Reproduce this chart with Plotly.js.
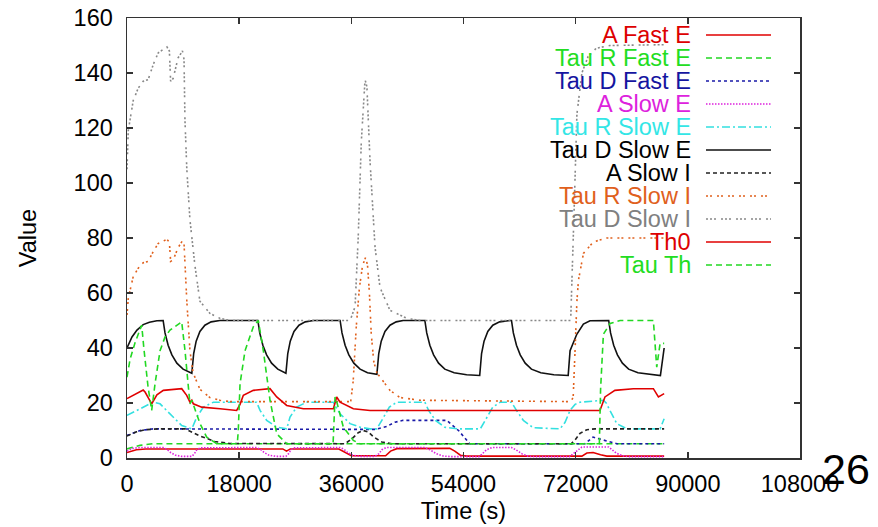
<!DOCTYPE html>
<html><head><meta charset="utf-8">
<script src="https://cdn.plot.ly/plotly-3.0.1.min.js"></script>
<style>html,body{margin:0;padding:0;background:#fff}#chart{width:878px;height:527px}</style>
</head><body><div id="chart"></div>
<script>
const seriesNames = ["A Fast E","Tau R Fast E","Tau D Fast E","A Slow E","Tau R Slow E","Tau D Slow E","A Slow I","Tau R Slow I","Tau D Slow I","Th0","Tau Th"];
const xTickValues = [0,18000,36000,54000,72000,90000,108000];
const yTickValues = [0,20,40,60,80,100,120,140,160];
const slideNumber = "26";

// A Fast E (red, near bottom)
const tAFastE = [0,1500,3000,25000,25600,26200,34000,35000,36000,41500,42300,43300,51800,52600,53500,54500,73000,73800,74800,76000,77000,86200];
const vAFastE = [2,3,3.3,3.3,2.5,3.3,3.3,2,0.8,0.8,2.5,3.4,3.5,2.5,1,0.7,0.7,1.8,2,1.2,0.7,0.7];

// Tau R Fast E (green, ~5)
const tTauRFastE = [0,2100,4200,86200];
const vTauRFastE = [3.3,4.6,5.2,5.2];

// Tau D Fast E (blue)
const tTauDFastE = [0,2100,4200,39800,41700,43000,44300,51300,53200,55000,73500,74800,76500,78600,86200];
const vTauDFastE = [8.2,10,10.6,10.4,11.5,13,13.7,13.7,10,5.2,5.2,7.6,6.5,5.2,5.2];

// A Slow E (magenta)
const tASlowE = [0,800,2000,5800,6400,7000,7800,8800,10400,10800,11200,11800,20800,21400,22000,22800,24000,25500,25900,26300,26900,34200,34800,35400,36200,37400,39800,40400,40900,41600,47800,48600,49700,50800,52000,56500,57000,57700,58600,61700,62400,63400,64400,65500,71000,71600,72300,73000,77300,77800,78500,79500,80500,86200];
const vASlowE = [2.5,3.5,3.8,3.8,3.2,2,1,0.6,0.6,1.5,3,3.7,3.8,3.2,2,1,0.6,0.6,1.5,3,3.7,3.8,3.2,2,1,0.6,0.6,1.5,3,3.8,3.8,3,1.5,0.7,0.5,0.5,1.5,3,3.8,3.8,3,1.5,0.6,0.5,0.5,1.5,3,4,4,3.2,1.8,0.8,0.5,0.5];

// Tau R Slow E (cyan)
const tTauRSlowE = [0,2600,4200,5300,6900,8780,10400,11200,12250,13850,20800,21350,22420,24030,25630,26160,27230,28830,33100,34190,35790,37400,39000,40100,41200,42100,43300,47800,48400,49500,51000,53000,56700,57800,58700,59900,61700,62500,63600,65200,69500,70300,71100,71900,72700,76450,76900,77500,78600,80200,85550,86200];
const vTauRSlowE = [15.5,18.5,20.3,19.7,16.1,11.8,10.6,14.9,18.5,20.3,20.3,17.3,13.7,11.2,10.6,14.9,18.5,20.3,20.3,16.1,12.5,11.2,10.6,10.6,14.9,18.5,20.3,20.3,17.3,13.7,11.2,10.6,10.6,14.9,18.5,20.3,20.3,17.3,13.7,11,10.6,13,17.3,19.5,20.3,21,20,17.3,12.5,10.6,10.6,14.3];

// Tau D Slow E (black solid)
const tTauDSlowE = [0,800,1600,2600,3600,4800,5800,6100,6600,7200,8000,9000,10400,10700,11100,11700,12500,13500,14900,21000,21300,21800,22400,23200,24200,25500,25800,26200,26800,27600,28600,29900,34200,34500,35000,35600,36400,37400,38600,40100,40400,40800,41400,42200,43200,44300,47800,48100,48600,49200,50000,51000,52500,54500,56600,56900,57300,57900,58700,59800,61500,61700,62000,62500,63100,63900,64900,66400,68500,70800,71100,72180,73240,74300,77300,77600,78100,78700,79500,80500,82000,84000,85600,86200];
const vTauDSlowE = [40,44,46.5,48.5,49.4,49.9,50,45.5,41,37.5,34.5,32.3,30.8,38,42.5,46,48.3,49.5,50,50,45.5,41,37.5,34.5,32.3,30.8,38,42.5,46,48.3,49.5,50,50,45.5,41,37.5,34.5,32.3,31,30.4,38,42.5,46,48.3,49.5,50,50,45.5,41,37.5,34.5,32.3,31,30.3,30,38,42.5,46,48.3,49.5,50,50,45.5,41,37.5,34.5,32.3,31,30.3,30,39,45,48.7,49.9,50,45.5,41,37.5,34.5,32.3,31,30.3,30,40];

// A Slow I (black dashed)
const tASlowI = [0,1500,3000,5000,9300,11700,14100,16500,35000,36100,37100,37900,38700,39600,40900,42500,71300,71900,72700,73800,75100,86200];
const vASlowI = [8,9.5,10.3,10.6,10.6,8,6,5.3,5.2,7,9.2,10,9.5,7.6,5.8,5.2,5.2,6.5,9,10.3,10.6,10.6];

// Tau R Slow I (orange)
const tTauRSlowI = [0,200,1000,1800,2600,3400,4200,5000,6400,6800,7000,7400,8200,8900,9150,9300,9600,10100,10600,11700,13300,14900,16500,35900,36300,36800,37300,37800,38300,38600,38900,39200,39600,40100,42200,43800,47000,71200,71600,71900,72200,72450,73250,74850,77000,86200];
const vTauRSlowI = [52,58,66,69,71,71.5,75,78,79.5,78.5,71.5,72,76.5,79,78,70,57,39,31,25,22,21,20.5,20.5,28,48,62,70,73,70,60,45,35,31,24.6,22,21,20.5,22,39,57,64.7,74.4,78.6,80,80];

// Tau D Slow I (gray)
const tTauDSlowI = [0,200,1000,1800,2600,3400,4200,5000,6400,6800,7000,7400,8200,8900,9150,9300,9600,10100,10900,11700,13300,14900,16500,35800,36600,37100,37600,38200,38500,39000,39800,40600,42200,44900,47000,71200,71750,72200,73000,74000,75300,77500,86200];
const vTauDSlowI = [105,119,130,134.5,137,137.6,143,147.3,149.5,148,137,138,145.5,148,145,123,105,86.6,70,57,52.6,50.8,50,50,55,80,115,137.6,135,108,76.8,62,53.7,50.8,50,50,90,125,140,146,149,150,150.3];

// Th0 (red solid, ~20)
const tTh0 = [0,2100,2600,2900,3960,4800,5830,8780,9580,10100,10400,10640,11990,14930,17600,18140,18670,20270,22950,24030,25630,28300,33120,33650,34190,36320,39000,75900,76700,78300,81260,84470,85280,86200];
const vTh0 = [21.6,24,24.7,24,19.7,23,24.6,25.2,22.8,20.3,21,19.7,18.5,17.9,17.3,19.5,22.8,24.6,25.2,22.2,19.1,17.9,17.9,22.2,20.3,17.9,17.3,17.3,22.2,24.6,25.2,25.2,22.2,23.4];

// Tau Th (green, large swings)
const tTauTh = [0,500,1300,2360,2700,3370,3960,4500,5300,6100,6900,8780,9310,9840,10100,10400,10640,11720,12790,14400,17700,17860,18140,18940,20270,21070,21880,22950,24030,25630,33070,33390,33710,34720,36320,37400,75800,76000,76450,77510,79130,84470,85010,85550,86200];
const vTauTh = [29.4,36,42,48.3,40,26,17.3,27,39,44,46.5,49.5,39,25.8,19.7,21,19.5,12.5,7.6,5.2,5.2,10,27,39,47.7,50,39,21,8.8,5.2,5.2,22.2,20,11.2,6.4,5.2,5.2,25,45,48.9,50,50,33,41.7,41.7];

const seriesTimes = [tAFastE,tTauRFastE,tTauDFastE,tASlowE,tTauRSlowE,tTauDSlowE,tASlowI,tTauRSlowI,tTauDSlowI,tTh0,tTauTh];
const seriesValues = [vAFastE,vTauRFastE,vTauDFastE,vASlowE,vTauRSlowE,vTauDSlowE,vASlowI,vTauRSlowI,vTauDSlowI,vTh0,vTauTh];

// styles
const lineColors = ["#e00000","#22d822","#1a1aa8","#dd22dd","#33e0e0","#111111","#222222","#e0601c","#888888","#e00000","#22d822"];
const textColors = ["#dd0000","#22dd22","#1515a0","#dd22dd","#33e6e6","#000000","#000000","#e0601c","#808080","#dd0000","#22dd22"];
const lineDashes = ["solid","6px,4px","3px,3px","1.5px,1.5px","8px,3px,2px,3px","solid","4px,3px","2px,2px,2px,5px","2px,2px,2px,2px,2px,5px","solid","6px,4px"];

const FONT = "Liberation Sans, Arial, Helvetica, sans-serif";

const traces = seriesNames.map((n,i)=>({
  type:"scatter", mode:"lines", name:n, x:seriesTimes[i], y:seriesValues[i],
  line:{color:lineColors[i], width:1.6, dash:lineDashes[i]}, showlegend:false, hoverinfo:"skip"
}));

const plotL=127, plotR=800, plotT=18, plotB=458;
const pxToPaperX = px => (px-plotL)/(plotR-plotL);
const pxToPaperY = py => (plotB-py)/(plotB-plotT);

const annotations = [];
const shapes = [];
seriesNames.forEach((n,i)=>{
  const rowY = 35 + i*23;
  annotations.push({xref:"paper", yref:"paper", x:pxToPaperX(693), y:pxToPaperY(rowY), xanchor:"right", yanchor:"middle",
    text:n, showarrow:false, font:{family:FONT, size:23.5, color:textColors[i]}});
  shapes.push({type:"line", xref:"paper", yref:"paper", x0:pxToPaperX(706), x1:pxToPaperX(771), y0:pxToPaperY(rowY), y1:pxToPaperY(rowY),
    line:{color:lineColors[i], width:1.5, dash:lineDashes[i]}});
});
annotations.push({xref:"paper", yref:"paper", x:pxToPaperX(846), y:pxToPaperY(469), xanchor:"center", yanchor:"middle",
  text:slideNumber, showarrow:false, font:{family:FONT, size:43, color:"#000"}});

const axisCommon = {showline:true, mirror:"ticks", ticks:"inside", ticklen:6, tickwidth:1.5, tickcolor:"#333",
  linecolor:"#333", linewidth:1.5, showgrid:false, zeroline:false, tickfont:{family:FONT, size:23.5, color:"#000"},
  exponentformat:"none", separatethousands:false, automargin:false};

const layout = {
  width:878, height:527, margin:{l:127, r:78, t:18, b:69},
  paper_bgcolor:"#fff", plot_bgcolor:"#fff", showlegend:false,
  xaxis:Object.assign({}, axisCommon, {range:[0,108000], tickvals:xTickValues, ticktext:xTickValues.map(String), ticklabelstandoff:4,
    title:{text:"Time (s)", font:{family:FONT, size:23.5, color:"#000"}, standoff:7}}),
  yaxis:Object.assign({}, axisCommon, {range:[0,160], tickvals:yTickValues, ticktext:yTickValues.map(String), ticklabelstandoff:8,
    title:{text:"Value", font:{family:FONT, size:23.5, color:"#000"}, standoff:30}}),
  annotations:annotations, shapes:shapes
};

Plotly.newPlot("chart", traces, layout, {displayModeBar:false, staticPlot:true});
</script></body></html>
